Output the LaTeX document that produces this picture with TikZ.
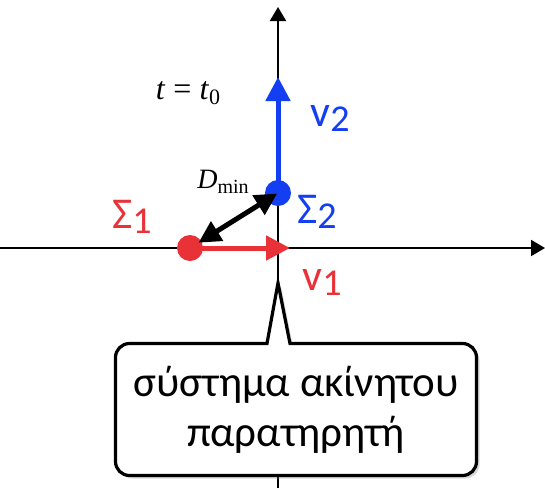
\documentclass[tikz,border=0pt]{standalone}
\usepackage{fontspec}
\setmainfont{Carlito}
\newfontfamily\timesfont{Liberation Serif}
\usetikzlibrary{arrows.meta,positioning,shadows}
\definecolor{sysRed}{RGB}{232,50,56}
\definecolor{sysBlue}{RGB}{20,62,242}
\newcommand{\lowsub}[2][19]{\raisebox{-2.5pt}{\fontsize{#1}{#1}\selectfont #2}}

\begin{document}
\begin{tikzpicture}[x=0.5pt,y=0.5pt,
    axis/.style={line width=1pt, -{Triangle[length=7pt,width=8pt]}},
    vel/.style={line width=2.5pt, -{Triangle[length=12pt,width=12pt]}},
    dot/.style={circle, inner sep=0pt, minimum size=13pt},
    lbl/.style={font=\fontsize{22}{22}\selectfont}]
    \useasboundingbox (-278,-240) rectangle (267,248);
    \draw[axis] (-278,0) -- (267,0);
    \draw[axis] (0,-240) -- (0,241);
    % the two systems
    \node[dot, fill=sysRed] (s1) at (-88,0) {};
    \node[dot, fill=sysBlue] (s2) at (0,55) {};
    \coordinate (v1end) at (12,0);
    \coordinate (v2end) at (0,171);
    \draw[vel, sysRed] (s1.center) -- (v1end);
    \draw[vel, sysBlue] (s2.center) -- (v2end);
    \draw[line width=2.5pt, {Triangle[length=11pt,width=11pt]}-{Triangle[length=11pt,width=11pt]}, shorten <=5pt, shorten >=0.5pt] (s1.center) -- (s2.center);
    \node[lbl, text=sysRed] (s1lbl) at (-146,31) {Σ\lowsub{1}};
    \node[lbl, text=sysBlue] (s2lbl) at (39,36) {Σ\lowsub{2}};
    \node[lbl, text=sysBlue] (v2lbl) at (52,130) {v\lowsub{2}};
    \node[lbl, text=sysRed] (v1lbl) at (44,-34) {v\lowsub{1}};
    \node (time) at (-90,155) {\timesfont\fontsize{16}{16}\selectfont\textit{t} = \textit{t}\lowsub[11]{0}};
    \node (dmin) at (-55,66) {\timesfont\fontsize{14}{14}\selectfont\textit{D}\lowsub[10]{min}};
    % observer callout
    \draw[line width=1.6pt, line join=miter, fill=white,
        drop shadow={opacity=0.3, shadow xshift=1.5pt, shadow yshift=-1.5pt}]
        (0,-35) -- (12,-95.5) -- (184.5,-95.5) arc[start angle=90, end angle=0, radius=7pt]
        -- (198.5,-213.5) arc[start angle=0, end angle=-90, radius=7pt]
        -- (-148.5,-227.5) arc[start angle=270, end angle=180, radius=7pt]
        -- (-162.5,-109.5) arc[start angle=180, end angle=90, radius=7pt]
        -- (-11,-95.5) -- cycle;
    \node[align=center, font=\fontsize{21.5}{25}\selectfont] (observer) at (18,-161.5) {σύστημα ακίνητου\\παρατηρητή};
\end{tikzpicture}
\end{document}
